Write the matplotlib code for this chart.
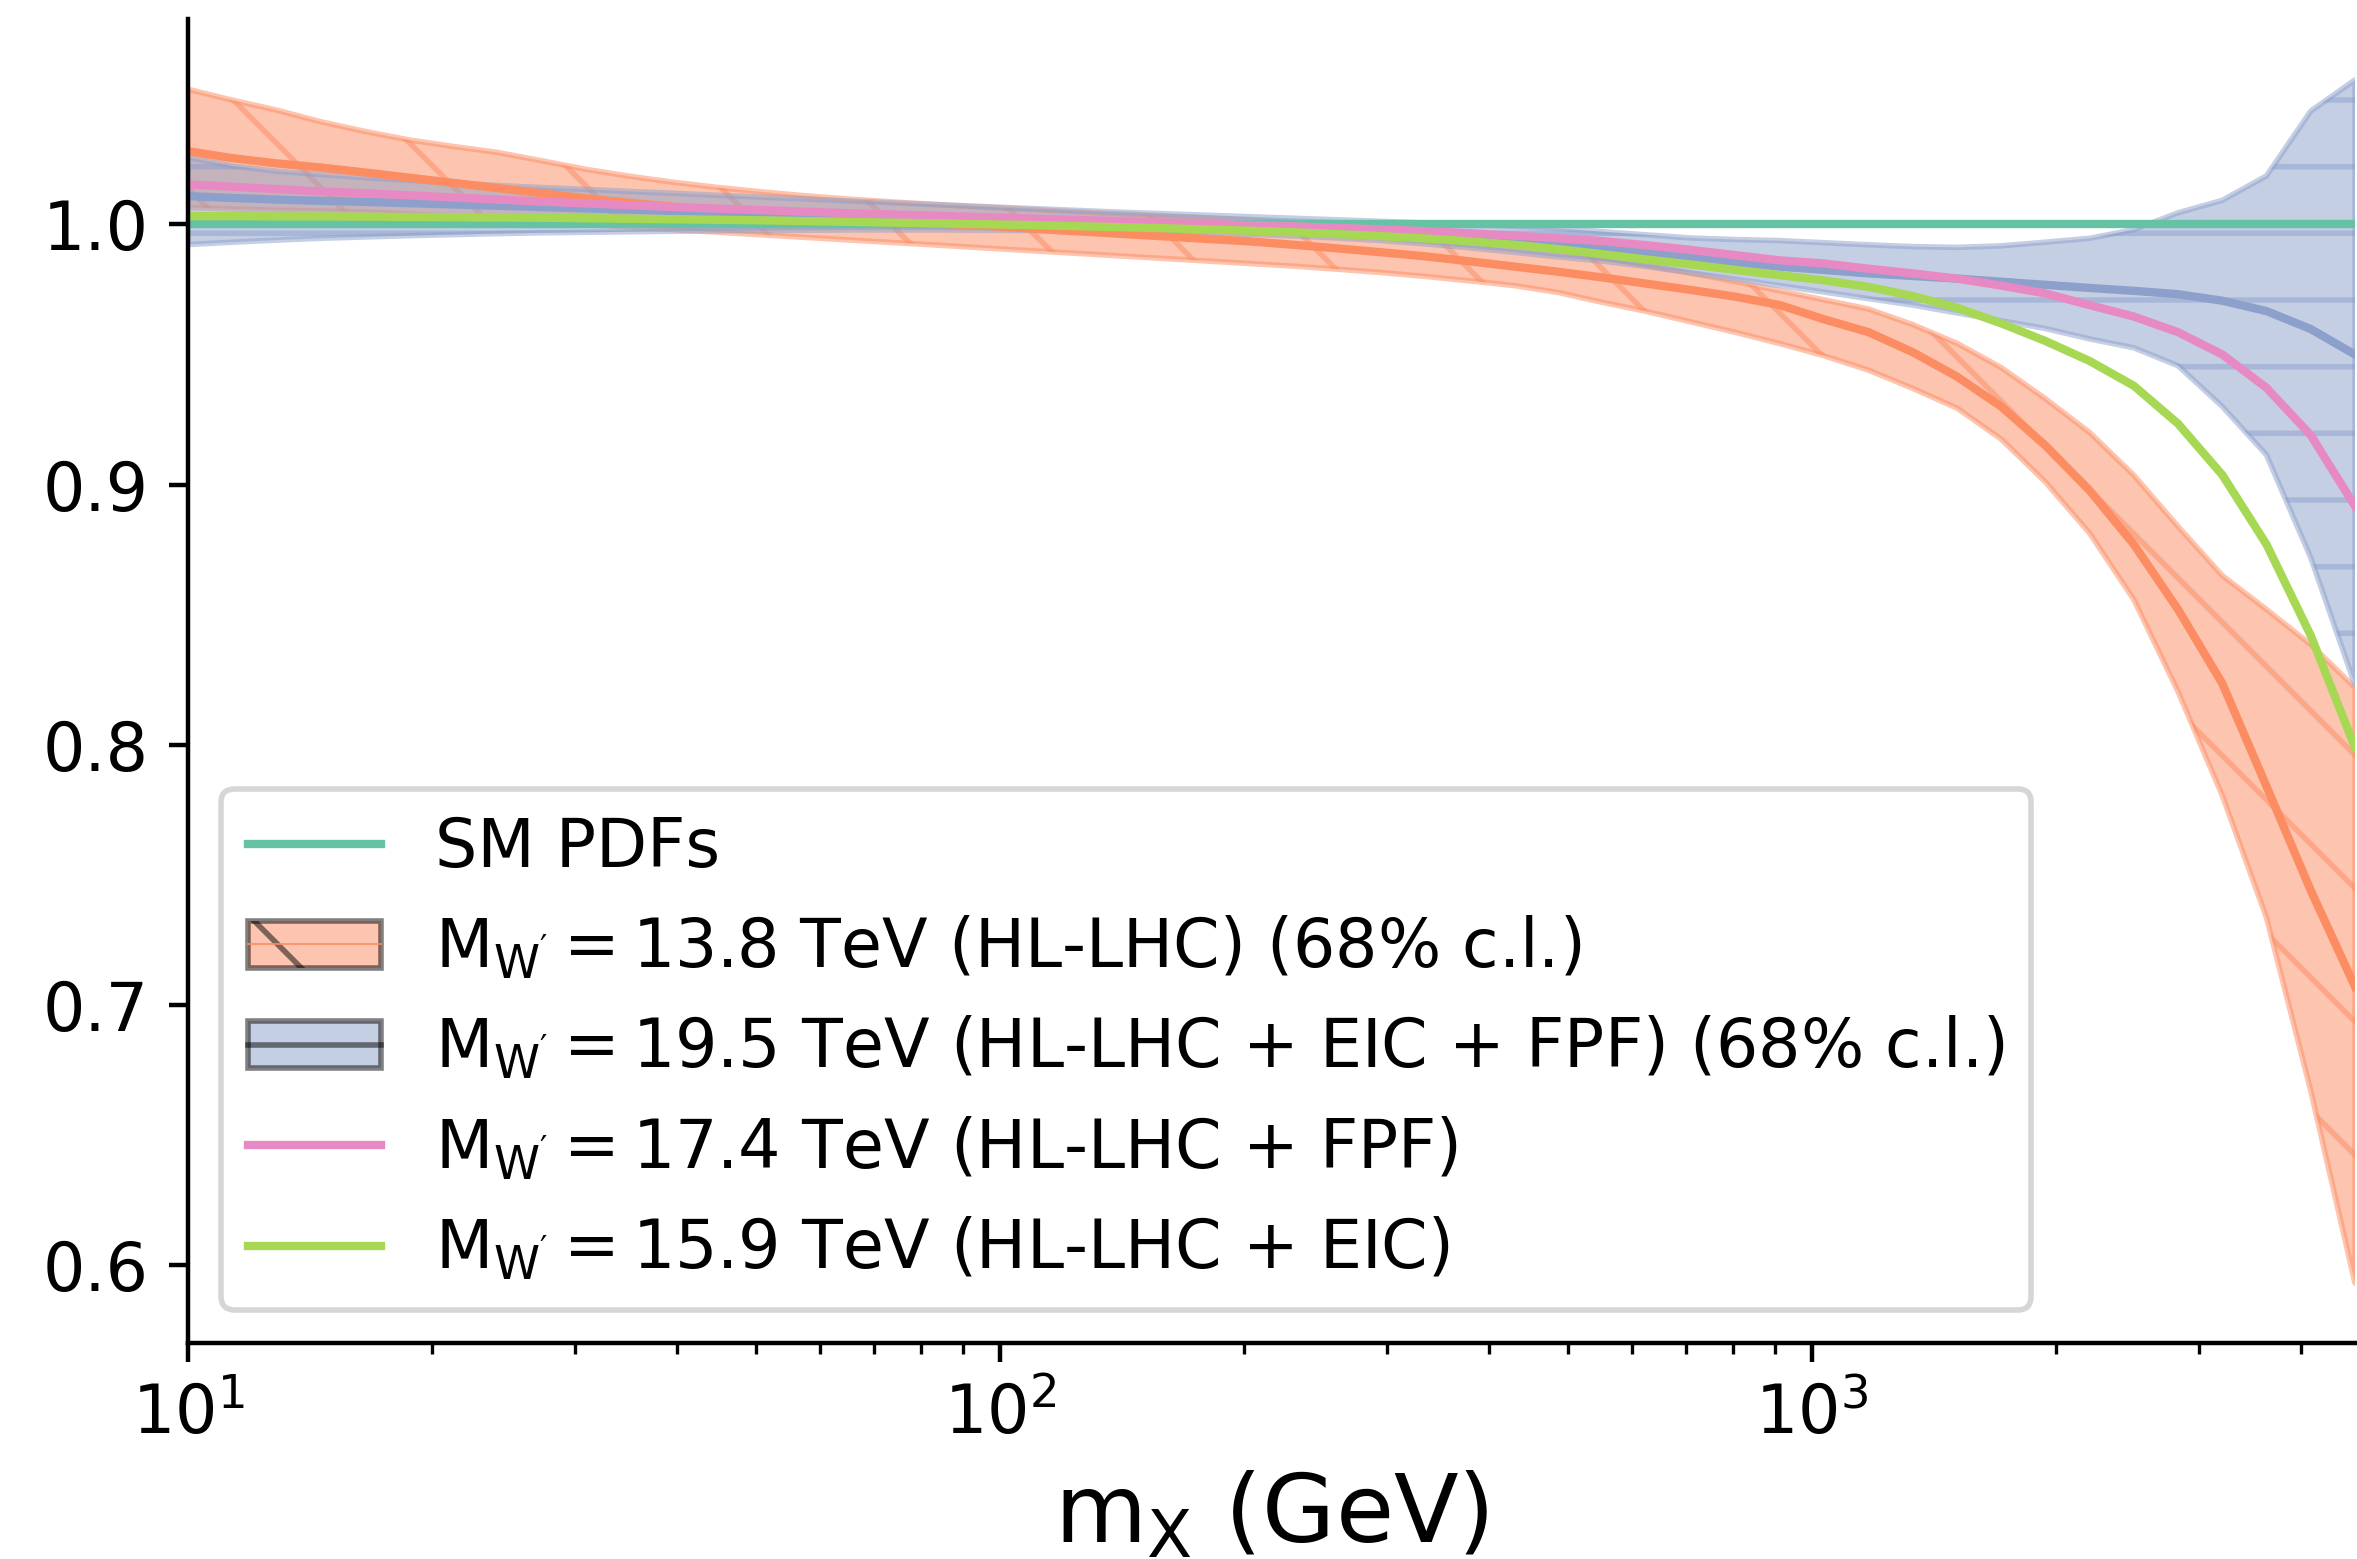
import numpy as np
import matplotlib
matplotlib.use('Agg')
import matplotlib.pyplot as plt
from matplotlib.patches import Patch
from matplotlib.lines import Line2D

plt.rcParams['font.family'] = ['DejaVu Sans']
plt.rcParams['mathtext.default'] = 'regular'
plt.rcParams['hatch.linewidth'] = 1.0

# ---------------- data ----------------
m_x = [10.0, 11.34, 12.85, 14.57, 16.51, 18.72, 21.22, 24.06, 27.27, 30.92,
       35.05, 39.73, 45.04, 51.06, 57.88, 65.61, 74.38, 84.32, 95.58, 108.3,
       122.8, 139.2, 157.9, 178.9, 202.9, 230.0, 260.7, 295.5, 335.0, 379.7,
       430.5, 488.0, 553.2, 627.1, 710.9, 805.9, 913.6, 1036, 1174, 1331,
       1509, 1710, 1939, 2198, 2491, 2824, 3202, 3629, 4114, 4664]

sm_pdfs = [1.0] * 50

hl_upper = [1.0520, 1.0478, 1.0440, 1.0395, 1.0358, 1.0325, 1.0300, 1.0277, 1.0245, 1.0212,
            1.0185, 1.0162, 1.0142, 1.0125, 1.0110, 1.0097, 1.0086, 1.0076, 1.0067, 1.0058,
            1.0050, 1.0042, 1.0034, 1.0026, 1.0017, 1.0006, 0.9995, 0.9982, 0.9967, 0.9950,
            0.9928, 0.9902, 0.9872, 0.9842, 0.9812, 0.9780, 0.9745, 0.9710, 0.9675, 0.9615,
            0.9543, 0.9450, 0.9330, 0.9200, 0.9036, 0.8839, 0.8650, 0.8520, 0.8385, 0.8220]
hl_center = [1.0282, 1.0255, 1.0235, 1.0219, 1.0200, 1.0180, 1.0160, 1.0140, 1.0120, 1.0100,
             1.0083, 1.0068, 1.0055, 1.0043, 1.0032, 1.0022, 1.0010, 1.0003, 0.9995, 0.9985,
             0.9975, 0.9965, 0.9955, 0.9945, 0.9935, 0.9922, 0.9908, 0.9893, 0.9877, 0.9858,
             0.9838, 0.9818, 0.9796, 0.9772, 0.9748, 0.9722, 0.9690, 0.9635, 0.9586, 0.9509,
             0.9415, 0.9300, 0.9150, 0.8977, 0.8770, 0.8520, 0.8235, 0.7840, 0.7440, 0.7070]
hl_lower = [1.0065, 1.0060, 1.0055, 1.0052, 1.0048, 1.0040, 1.0030, 1.0020, 1.0010, 1.0000,
            0.9990, 0.9980, 0.9970, 0.9960, 0.9950, 0.9940, 0.9930, 0.9920, 0.9910, 0.9900,
            0.9890, 0.9880, 0.9870, 0.9860, 0.9850, 0.9840, 0.9828, 0.9815, 0.9800, 0.9783,
            0.9765, 0.9738, 0.9700, 0.9665, 0.9625, 0.9585, 0.9542, 0.9495, 0.9440, 0.9370,
            0.9294, 0.9175, 0.9010, 0.8813, 0.8558, 0.8204, 0.7804, 0.7335, 0.6670, 0.5930]

all_upper = [1.0258, 1.0225, 1.0205, 1.0192, 1.0180, 1.0170, 1.0160, 1.0150, 1.0142, 1.0135,
             1.0127, 1.0120, 1.0112, 1.0105, 1.0098, 1.0090, 1.0083, 1.0076, 1.0069, 1.0062,
             1.0055, 1.0048, 1.0042, 1.0036, 1.0030, 1.0024, 1.0018, 1.0012, 1.0006, 1.0000,
             0.9993, 0.9985, 0.9972, 0.9960, 0.9948, 0.9942, 0.9938, 0.9930, 0.9922, 0.9915,
             0.9912, 0.9918, 0.9932, 0.9947, 0.9980, 1.0045, 1.0093, 1.0187, 1.0436, 1.0556]
all_center = [1.0109, 1.0102, 1.0096, 1.0091, 1.0087, 1.0082, 1.0077, 1.0072, 1.0067, 1.0062,
              1.0057, 1.0052, 1.0047, 1.0042, 1.0037, 1.0032, 1.0027, 1.0022, 1.0017, 1.0012,
              1.0007, 1.0002, 0.9997, 0.9992, 0.9987, 0.9981, 0.9975, 0.9968, 0.9961, 0.9953,
              0.9944, 0.9933, 0.9915, 0.9893, 0.9875, 0.9855, 0.9838, 0.9825, 0.9812, 0.9802,
              0.9792, 0.9780, 0.9768, 0.9756, 0.9745, 0.9732, 0.9707, 0.9667, 0.9598, 0.9500]
all_lower = [0.9923, 0.9932, 0.9940, 0.9947, 0.9952, 0.9957, 0.9961, 0.9965, 0.9968, 0.9970,
             0.9972, 0.9974, 0.9976, 0.9977, 0.9978, 0.9979, 0.9979, 0.9979, 0.9978, 0.9977,
             0.9975, 0.9973, 0.9970, 0.9966, 0.9962, 0.9956, 0.9948, 0.9938, 0.9925, 0.9910,
             0.9893, 0.9875, 0.9859, 0.9838, 0.9814, 0.9790, 0.9765, 0.9740, 0.9715, 0.9690,
             0.9660, 0.9630, 0.9600, 0.9560, 0.9526, 0.9457, 0.9300, 0.9114, 0.8719, 0.8230]

fpf = [1.0154, 1.0145, 1.0136, 1.0127, 1.0120, 1.0112, 1.0104, 1.0096, 1.0088, 1.0081,
       1.0074, 1.0067, 1.0061, 1.0055, 1.0049, 1.0043, 1.0038, 1.0033, 1.0028, 1.0023,
       1.0018, 1.0013, 1.0008, 1.0003, 0.9998, 0.9993, 0.9987, 0.9981, 0.9974, 0.9966,
       0.9957, 0.9947, 0.9936, 0.9920, 0.9902, 0.9882, 0.9862, 0.9850, 0.9830, 0.9812,
       0.9792, 0.9765, 0.9735, 0.9690, 0.9646, 0.9586, 0.9500, 0.9372, 0.9190, 0.8917]
eic = [1.0032, 1.0032, 1.0031, 1.0031, 1.0030, 1.0029, 1.0028, 1.0027, 1.0026, 1.0024,
       1.0022, 1.0020, 1.0018, 1.0016, 1.0013, 1.0010, 1.0007, 1.0004, 1.0001, 0.9998,
       0.9994, 0.9990, 0.9986, 0.9981, 0.9976, 0.9970, 0.9963, 0.9955, 0.9946, 0.9935,
       0.9922, 0.9905, 0.9885, 0.9865, 0.9846, 0.9825, 0.9805, 0.9785, 0.9760, 0.9725,
       0.9680, 0.9620, 0.9552, 0.9475, 0.9380, 0.9234, 0.9037, 0.8770, 0.8420, 0.7990]

labels = ["SM PDFs",
          r"$M_{W'} = 13.8$ TeV (HL-LHC) (68% c.l.)",
          r"$M_{W'} = 19.5$ TeV (HL-LHC + EIC + FPF) (68% c.l.)",
          r"$M_{W'} = 17.4$ TeV (HL-LHC + FPF)",
          r"$M_{W'} = 15.9$ TeV (HL-LHC + EIC)"]
yticks = [0.6, 0.7, 0.8, 0.9, 1.0]

# ---------------- style ----------------
c_sm, c_hl, c_all, c_fpf, c_eic = '#66c2a5', '#fc8d62', '#8da0cb', '#e78ac3', '#a6d854'

W, H, DPI = 2357, 1559, 400
fig = plt.figure(figsize=(W / DPI, H / DPI), dpi=DPI)
ax = fig.add_axes([188 / W, 1 - 1343 / H, (2355 - 188) / W, (1343 - 19) / H])

ax.fill_between(m_x, hl_lower, hl_upper, facecolor=c_hl, edgecolor=c_hl,
                alpha=0.5, hatch='\\', lw=1.0)
ax.fill_between(m_x, all_lower, all_upper, facecolor=c_all, edgecolor=c_all,
                alpha=0.5, hatch='-', lw=1.0)
ax.plot(m_x, sm_pdfs, color=c_sm, lw=1.5)
ax.plot(m_x, hl_center, color=c_hl, lw=1.5)
ax.plot(m_x, all_center, color=c_all, lw=1.5)
ax.plot(m_x, fpf, color=c_fpf, lw=1.5)
ax.plot(m_x, eic, color=c_eic, lw=1.5)

ax.set_xscale('log')
ax.set_xlim(m_x[0], m_x[-1])
ax.set_ylim(0.570, 1.079)
ax.set_yticks(yticks)
ax.set_yticklabels([f"{v:.1f}" for v in yticks])
ax.tick_params(labelsize=12)
ax.spines['top'].set_visible(False)
ax.spines['right'].set_visible(False)
ax.set_xlabel(r'$m_X$ (GeV)', fontsize=17)

handles = [
    Line2D([], [], color=c_sm, lw=1.5),
    (Patch(facecolor=c_hl, edgecolor='k', alpha=0.5, hatch='\\'),
     Line2D([], [], color=c_hl, lw=0.3)),
    (Patch(facecolor=c_all, edgecolor='k', alpha=0.5),
     Line2D([], [], color=(0, 0, 0, 0.5), lw=1.0)),
    Line2D([], [], color=c_fpf, lw=1.5),
    Line2D([], [], color=c_eic, lw=1.5),
]
ax.legend(handles, labels, loc='lower left', fontsize=12)

fig.savefig('out.png', dpi=DPI)
